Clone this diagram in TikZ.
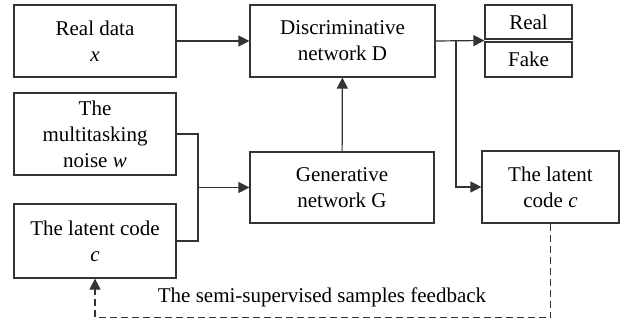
\documentclass[tikz,border=0pt]{standalone}
\usepackage{fontspec}
\setmainfont{Liberation Serif}
\usepackage{tikz}
\usetikzlibrary{positioning, arrows.meta, calc}

\begin{document}
\begin{tikzpicture}[
    x=1pt, y=-1pt,
    block/.style={rectangle, draw=black!80, line width=1.2pt, align=center,
                  inner sep=2pt, font=\fontsize{21}{26}\selectfont},
    arrow/.style={-{Triangle[length=11pt, width=11pt]}, line width=1.2pt, draw=black!80},
    line/.style={line width=1.2pt, draw=black!80},
    feedback/.style={line width=1.2pt, draw=black!80, dash pattern=on 7pt off 4pt,
                  -{Triangle[length=11pt, width=11pt]}},
    label/.style={font=\fontsize{21}{26}\selectfont}
]
    \useasboundingbox (0,0) rectangle (626,324);

    % Inputs
    \node[block, minimum width=162pt, minimum height=72pt] (realdata) at (95, 41) {Real data\\\textit{x}};
    \node[block, minimum width=162pt, minimum height=82pt] (noise) at (95, 134) {The\\multitasking\\noise \textit{w}};
    \node[block, minimum width=162pt, minimum height=74pt] (codein) at (95, 241) {The latent code\\\textit{c}};

    % Networks
    \node[block, minimum width=185pt, minimum height=72pt] (D) at (342.5, 41) {Discriminative\\network D};
    \node[block, minimum width=184pt, minimum height=71pt] (G) at (342, 187.5) {Generative\\network G};

    % Outputs
    \node[block, minimum width=87pt, minimum height=34pt] (real) at (528.5, 22) {Real};
    \node[block, minimum width=87pt, minimum height=35pt] (fake) at (528.5, 59.5) {Fake};
    \node[block, minimum width=137pt, minimum height=72pt] (codeout) at (550.5, 187) {The latent\\code \textit{c}};

    % Feedback label
    \node[label] (fblabel) at (322, 297) {The semi-supervised samples feedback};

    % Junction points
    \coordinate (join) at (198, 187.5);
    \coordinate (split) at (456, 41);
    \coordinate (out) at ($(real.south west)!0.5!(fake.north west)$);

    % Forward path arrows
    \draw[arrow] (realdata) -- (D);
    \draw[line] (noise.east) -- (join |- noise.east) -- (join |- codein.east) -- (codein.east);
    \draw[arrow] (join) -- (G);
    \draw[arrow] (G) -- (D);
    \draw[arrow] (D.east) -- (out);
    \draw[arrow] (split) |- (codeout.west);

    % Feedback loop
    \draw[feedback] (codeout.south) -- ++(0, 94) -| (codein.south);

\end{tikzpicture}
\end{document}
